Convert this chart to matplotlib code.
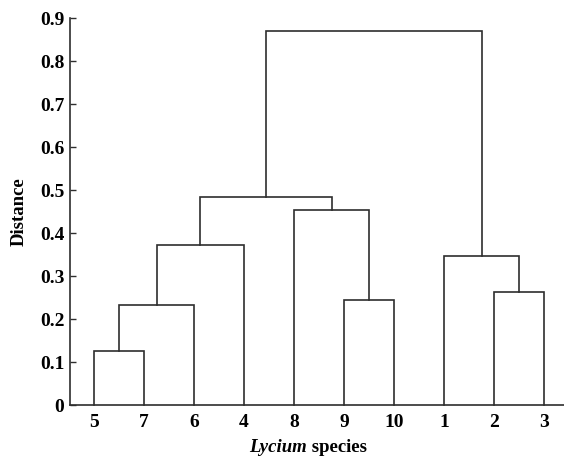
import matplotlib
matplotlib.use("Agg")
import matplotlib.pyplot as plt
from matplotlib.offsetbox import TextArea, HPacker, AnchoredOffsetbox

# leaf order along the x axis
leaves = ['5', '7', '6', '4', '8', '9', '10', '1', '2', '3']
# merges: (node a, node b, distance); nodes 0-9 are leaves, new clusters get 10, 11, ...
merge_a = [0, 10, 11, 5, 4, 12, 8, 7, 15]
merge_b = [1, 2, 3, 6, 13, 14, 9, 16, 17]
merge_h = [0.125, 0.232, 0.372, 0.244, 0.453, 0.484, 0.262, 0.347, 0.870]
yticks = [0, 0.1, 0.2, 0.3, 0.4, 0.5, 0.6, 0.7, 0.8, 0.9]

plt.rcParams['font.family'] = ['Liberation Serif', 'DejaVu Serif']
plt.rcParams['font.weight'] = 'bold'

W, H = 564, 457
fig = plt.figure(figsize=(W / 100, H / 100), dpi=100)
ax = fig.add_axes([70 / W, 1 - 405 / H, (W - 70) / W, (405 - 18.3) / H])

col = '#2e2e2e'
pos = {i: i + 1.0 for i in range(len(leaves))}
hgt = {i: 0.0 for i in range(len(leaves))}
for k, (a, b, h) in enumerate(zip(merge_a, merge_b, merge_h)):
    xa, xb = pos[a], pos[b]
    ax.plot([xa, xa, xb, xb], [hgt[a], h, h, hgt[b]], color=col, lw=1.2,
            solid_joinstyle='miter', clip_on=False)
    node = len(leaves) + k
    pos[node] = (xa + xb) / 2
    hgt[node] = h

ax.set_xlim(0.52, 10.4)
ax.set_ylim(0, 0.9)
ax.set_xticks(range(1, len(leaves) + 1))
ax.set_xticklabels(leaves)
ax.set_yticks(yticks)
ax.set_yticklabels(['0'] + [f'{v:.1f}' for v in yticks[1:]])
ax.tick_params(axis='x', length=0, pad=6.5, labelsize=14)
ax.tick_params(axis='y', direction='in', length=4, width=1, color=col, pad=4, labelsize=14)
for s in ['top', 'right']:
    ax.spines[s].set_visible(False)
for s in ['left', 'bottom']:
    ax.spines[s].set_color(col)
    ax.spines[s].set_linewidth(1.2)

ax.set_ylabel('Distance', fontsize=13.5, fontweight='bold', labelpad=9)

lab = HPacker(children=[
    TextArea('Lycium', textprops=dict(fontsize=13.5, fontweight='bold', style='italic')),
    TextArea(' species', textprops=dict(fontsize=13.5, fontweight='bold')),
], align='baseline', pad=0, sep=0)
box = AnchoredOffsetbox(loc='center', child=lab, frameon=False, pad=0, borderpad=0,
                        bbox_to_anchor=(308 / W, 1 - 447 / H), bbox_transform=fig.transFigure)
fig.add_artist(box)

fig.savefig('out.png', dpi=100)
